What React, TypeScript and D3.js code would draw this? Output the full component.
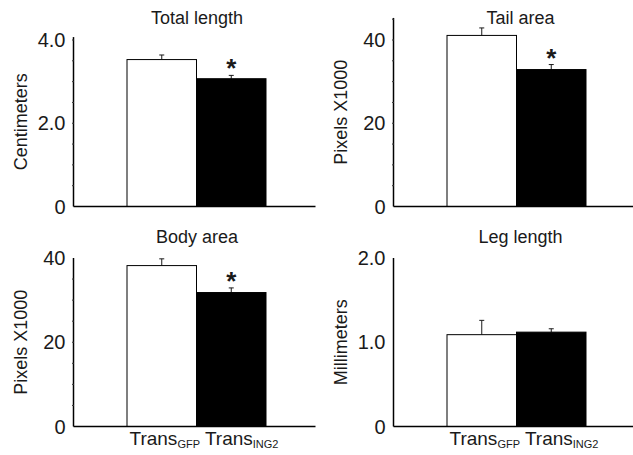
import * as d3 from 'd3';

const titles = ['Total length', 'Tail area', 'Body area', 'Leg length'];
const yLabels = ['Centimeters', 'Pixels X1000', 'Pixels X1000', 'Millimeters'];
const groups = ['GFP', 'ING2'];
const gfpMeans = [3.53, 41.1, 38.2, 1.09];
const gfpErrors = [0.11, 1.8, 1.6, 0.17];
const ing2Means = [3.07, 32.9, 31.8, 1.12];
const ing2Errors = [0.08, 1.2, 1.1, 0.04];
const significant = [true, true, true, false];
const majorTicks = [[0, 2, 4], [0, 20, 40], [0, 20, 40], [0, 1, 2]];
const minorStep = [0.5, 5, 5, 0];
const axisMax = [4.07, 45.3, 40, 2];

const font = '"Liberation Sans", Arial, sans-serif';
const ink = '#1a1a1a';

function Panel({ i }: { i: number }) {
  const col = i % 2;
  const row = Math.floor(i / 2);
  const ox = 73.5 + col * 320;
  const base = row === 0 ? 206.5 : 426.5;
  const top = row === 0 ? 40 : 258;
  const max = majorTicks[i][majorTicks[i].length - 1];

  const y = d3.scaleLinear().domain([0, max]).range([base, top]);
  const x = d3.scaleBand().domain(groups).range([ox + 53.5, ox + 192.5]).padding(0);

  const means = [gfpMeans[i], ing2Means[i]];
  const errs = [gfpErrors[i], ing2Errors[i]];
  const minors = minorStep[i] ? d3.range(minorStep[i], axisMax[i], minorStep[i]) : [];
  const fmt = (t: number) => (t === 0 ? '0' : max < 10 ? d3.format('.1f')(t) : String(t));
  const titleX = col === 0 ? ox + 123.5 : ox + 127;

  return (
    <g>
      <text x={titleX} y={row === 0 ? 24 : 243} textAnchor="middle" fontSize={18} fill={ink}>
        {titles[i]}
      </text>
      <text
        transform={`translate(${ox - 47},${(base + y(axisMax[i])) / 2}) rotate(-90)`}
        textAnchor="middle"
        fontSize={18}
        fill={ink}
      >
        {yLabels[i]}
      </text>

      {groups.map((g, k) => {
        const bx = x(g)!;
        const cx = bx + x.bandwidth() / 2;
        const et = y(means[k] + errs[k]);
        return (
          <g key={g}>
            <line x1={cx} x2={cx} y1={y(means[k])} y2={et} stroke={ink} strokeWidth={1} />
            <line x1={cx - 2.5} x2={cx + 2.5} y1={et} y2={et} stroke={ink} strokeWidth={1} />
            <rect
              x={bx}
              y={y(means[k])}
              width={x.bandwidth()}
              height={base - y(means[k])}
              fill={k === 0 ? '#fff' : '#000'}
              stroke="#000"
              strokeWidth={1}
            />
          </g>
        );
      })}

      {significant[i] && (
        <text
          x={x('ING2')! + x.bandwidth() / 2}
          y={y(means[1] + errs[1]) + 2}
          textAnchor="middle"
          fontSize={26}
          fontWeight="bold"
          fill={ink}
        >
          *
        </text>
      )}

      <line x1={ox} x2={ox} y1={y(axisMax[i])} y2={base} stroke="#000" strokeWidth={1.5} />
      <line x1={ox} x2={ox + 242} y1={base} y2={base} stroke="#000" strokeWidth={1.5} />
      {minors.map((t) => (
        <line key={t} x1={ox - 1.5} x2={ox + 0.5} y1={y(t)} y2={y(t)} stroke="#333" strokeWidth={1} />
      ))}
      {majorTicks[i].map((t) => (
        <text
          key={t}
          x={ox - 8}
          y={y(t)}
          textAnchor="end"
          dominantBaseline="central"
          fontSize={20}
          fill={ink}
        >
          {fmt(t)}
        </text>
      ))}

      {row === 1 && (
        <text x={ox + 56} y={445} fontSize={19} fill={ink}>
          Trans
          <tspan fontSize={11} dy={3}>GFP</tspan>
          <tspan fontSize={19} dy={-3}> Trans</tspan>
          <tspan fontSize={11} dy={3}>ING2</tspan>
        </text>
      )}
    </g>
  );
}

export default function App() {
  return (
    <svg
      width={633}
      height={455}
      style={{ position: 'absolute', left: 0, top: 0, background: '#fff' }}
      fontFamily={font}
    >
      {titles.map((_, i) => (
        <Panel key={i} i={i} />
      ))}
    </svg>
  );
}
